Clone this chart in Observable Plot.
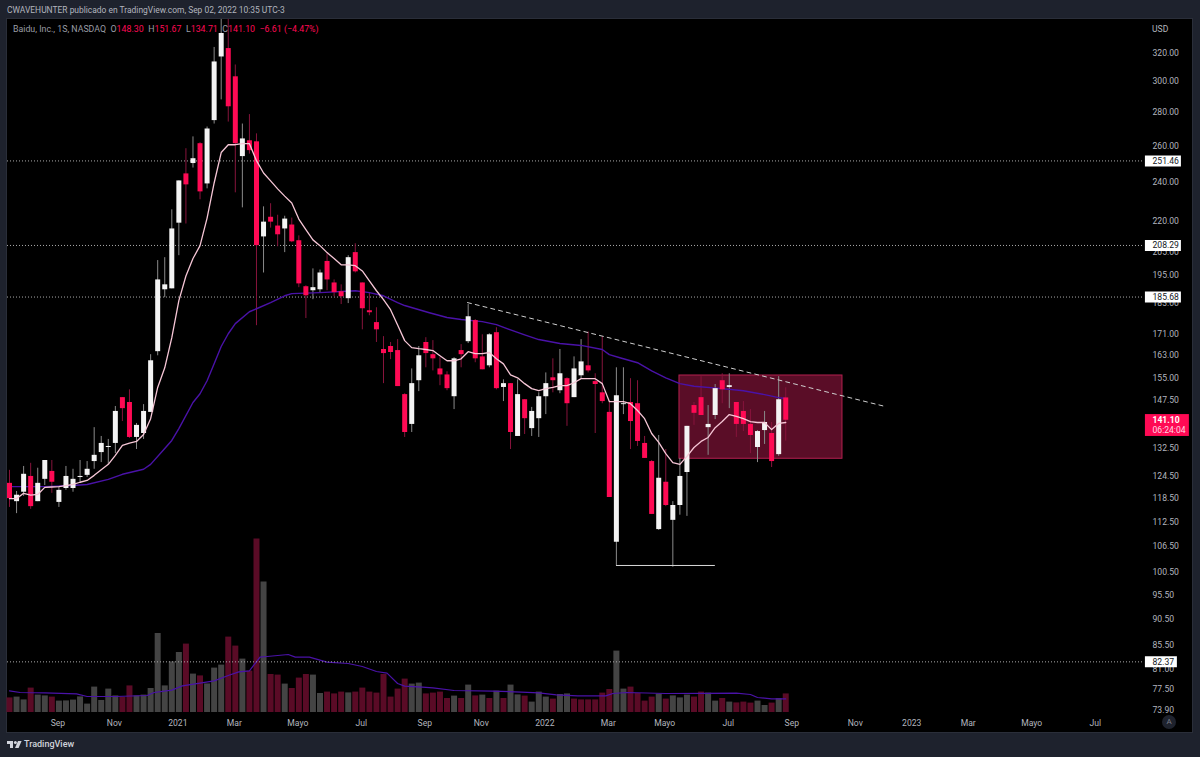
<!DOCTYPE html>
<html lang="es">
<head>
<meta charset="utf-8">
<title>Baidu, Inc. 1S NASDAQ</title>
<script src="https://cdn.jsdelivr.net/npm/d3@7"></script>
<script src="https://cdn.jsdelivr.net/npm/@observablehq/plot@0.6"></script>
<style>
html,body{margin:0;padding:0;background:#1e222d;overflow:hidden}
#page{position:relative;width:1200px;height:757px;background:#1e222d;font-family:Roboto,sans-serif;overflow:hidden}
#pane{position:absolute;left:7px;top:19px;width:1185px;height:713px;background:#000;outline:1px solid #2a2e39}
.layer{position:absolute;left:0;top:0}
#pub{position:absolute;left:7px;top:4px;font-size:8.45px;line-height:12px;color:#b2b5be;white-space:nowrap}
#legend{position:absolute;left:13px;top:23px;font-size:8.8px;line-height:12px;color:#9a9da6;white-space:nowrap}
#legend b{font-weight:400;color:#ff0a54}
#legend span{margin-left:4.5px}
#usd{position:absolute;left:1152px;top:23px;font-size:8.6px;line-height:12px;color:#b2b5be}
#auto{position:absolute;left:1162px;top:715px;width:14px;height:14px;border-radius:7px;background:#1e222d;color:#787b86;font-size:8px;line-height:14px;text-align:center}
#brand{position:absolute;left:24px;top:737px;font-size:9px;line-height:14px;font-weight:500;color:#d1d4dc}
#logo{position:absolute;left:7px;top:741px}
</style>
</head>
<body>
<div id="page">
  <div id="pane"></div>
  <div id="volLayer" class="layer"></div>
  <div id="priceLayer" class="layer"></div>
  <div id="pub">CWAVEHUNTER publicado en TradingView.com, Sep 02, 2022 10:35 UTC-3</div>
  <div id="legend">Baidu, Inc., 1S, NASDAQ<span>O<b>148.30</b></span><span>H<b>151.67</b></span><span>L<b>134.71</b></span><span>C<b>141.10</b></span><span><b>−6.61 (−4.47%)</b></span></div>
  <div id="usd">USD</div>
  <div id="auto">A</div>
  <svg id="logo" width="15" height="8" viewBox="0 0 15 8"><path fill="#d1d4dc" d="M0 0h6v7H3V3H0z"/><circle fill="#d1d4dc" cx="8.4" cy="1.5" r="1.5"/><path fill="#d1d4dc" d="M11 0h3.6l-3 7H8z"/></svg>
  <div id="brand">TradingView</div>
</div>
<script>
// Weekly candles, one entry per week starting at firstWeek
const firstWeek = Date.UTC(2020, 6, 20);
const open  = [122.6,117.7,120.2,124.5,117.7,123.7,125.9,117.5,121.2,121.2,124.2,124.8,128.7,131.3,132.8,134,148.4,146.8,135.8,137,143.6,164.4,188.7,189.1,218.9,244.3,250,261.3,238.9,275.1,317,323,303.3,253.9,263,262.4,212.3,221.8,217.5,216.1,218,210.5,190,188.3,188.7,201,191.6,187.9,185,205,191.6,180.1,175.4,165.2,166.3,164.8,149.4,139.8,154.1,167.8,163.3,158.2,156.1,148.7,164.8,168.1,176.2,162.5,159.3,171.5,151.8,153.1,136.1,147.7,138.5,141.6,148.7,155.1,150.7,154.8,148.4,155.8,159.3,153.8,150,143.6,107.5,146.1,146.8,146.4,134,128.7,110.6,122.9,112.9,116.7,125.6,145.8,148.4,138.8,142.6,154.1,151.8,146.8,143.9,139.8,132.8,137.9,137,130.7,148.3];
const high  = [126.2,120.4,127.3,128.2,126.8,129,129,121.5,127.3,126.5,129,128.7,138.8,136.1,135.2,145.5,148.4,151,140.1,146.1,163.3,201.4,202.7,225.5,240.5,258.4,265.3,261.9,271.2,323.8,354.8,350,311.4,273,278.8,267.1,227,228.6,222.8,222.3,221.4,212.8,190.4,197.7,197.2,204.5,192.9,190.8,203.6,209.1,191.6,187.5,181.3,170,167.8,168.9,149.7,158.2,166.3,169.6,168.5,162.2,157.2,162.2,167,182.6,176.6,170.7,171.1,173.4,154.4,153.1,154.4,147.7,145.2,150,156.8,161.8,165.2,155.1,162.5,168.9,171.8,156.5,170,146.8,158.6,158.6,154.8,154.1,136.1,129,136.4,132.2,117.7,129.6,139.2,146.8,155.5,145.8,152.8,156.5,156.5,146.8,147.1,144.5,137.9,143.9,140.4,155.5,151.67];
const low   = [116.2,114.6,119.1,115.7,117.7,122,119.9,116.2,120.7,120.2,122.6,124.2,126.5,128.4,127.9,131,140.7,135.5,132.2,135.2,143.6,162.9,185.4,189.1,203.6,218.5,247.5,230.6,236.3,273,288.1,274.2,234.2,226.5,255.3,174.2,195.9,216.5,207.7,205,209.6,189.6,177,184.6,187.5,188.3,185.8,182.6,183,195.9,172.6,178.1,167.8,153.1,161.5,152.1,135.8,137.3,150.4,158.6,157.5,152.4,150.7,144.5,158.6,167.4,160.4,157.9,158.6,151,147.1,132.2,136.1,136.7,136.1,135.8,142.9,150,149.7,139.2,148.4,154.8,156.8,137,146.4,118.8,102.1,142.9,132.2,133.1,129.6,114.4,110.4,116.4,101.7,114.2,113.9,139.5,142.6,130.5,141.3,146.4,144.8,135.8,137.6,131,128.4,133.7,127,130.2,134.71];
const close = [118.5,119.4,125.1,116.4,122.6,129,122.9,120.7,124.5,123.7,124.5,126.5,130.5,134,133.1,143.9,144.8,135.8,139.5,143.9,161.1,192.9,190.8,216.1,240.5,238.4,252.7,234.7,270,313.5,334,283.7,261.3,264.1,257.3,208.2,219.4,219.4,213.3,220.9,210,191.2,186.2,189.6,195.9,192.9,187.5,185.8,202.7,196.4,180.9,179.3,172.6,163.7,164.1,152.1,137.3,153.1,162.9,163.7,161.8,156.1,151.4,161.8,163.3,177.7,161.8,157.9,170.7,151.4,153.1,137.3,149.4,141.6,143.9,148.7,153.1,154.1,156.5,146.4,158.2,160.7,157.5,152.8,147.1,118.8,149,146.4,140.7,134.6,129.6,114.4,124,116.7,116.7,124.5,139.2,143.3,142.6,139.8,151.4,151,152.4,139.8,139.8,136.4,137.6,140.4,128.7,147.7,141.1];
// Volume in millions of shares
const volume = [7.3,7.7,6.3,12.2,8.7,8.3,7.7,5.7,5.8,6.2,7.8,4.2,12.7,6,11.7,8.3,7.5,13.3,8.3,8.7,12,39.5,13.3,25.3,30,34.2,19.2,18.3,14.3,22.2,23.7,37.7,33.2,26.7,20.7,86.7,65.2,19,18.7,14.2,12,17.2,19,18.7,9.5,10.2,9.3,10.2,9.8,10.2,12.2,10.2,9.7,19,7.7,11.7,16.7,14.2,14.7,9.3,9.7,10.2,7,8.2,7,13.7,8.3,8.7,7,10.7,7,13.7,8.8,8.2,5.2,10.2,7.7,6.7,9,9.3,6.7,6.3,6.3,6.3,9.7,11.5,30.7,11.7,12.7,9.5,5.7,7.7,9.2,6.7,8.3,7.3,8.7,7.7,10.2,9.7,5.7,7,5.2,4.8,5.2,4.7,5.7,3.5,4.7,7,9.3];
const volumeIsUp = [0,1,1,0,1,1,0,1,1,1,1,1,1,1,1,1,0,0,1,1,1,1,1,1,1,0,1,0,1,1,1,0,0,1,0,0,1,0,0,1,0,0,0,1,1,0,0,0,1,0,0,0,0,0,0,0,0,1,1,0,0,0,0,1,0,1,0,1,0,1,0,1,1,0,1,1,1,0,1,1,0,0,0,0,0,0,1,1,0,0,0,0,1,0,1,1,1,0,0,1,1,0,1,0,0,0,1,1,0,1,0];
// Fast moving average of price, one value per week
const fastMA = [118.5,118.5,119.9,119.4,119.6,121.5,121.6,121.7,122,122.3,122.9,123.4,124.8,126.4,127.9,130.5,133.4,134.1,134.6,136.7,141.6,151.8,158.6,169.6,184.2,194.6,202.3,208.2,221.4,239.4,256.2,260.7,260.7,261.3,261.3,251.6,244.8,240.5,236.3,232.5,229,220.9,215.8,210.9,208.2,205,202.3,199.5,199.5,199.1,196.8,192.5,188.3,184.6,180.5,174.5,168.5,165.9,165.5,165.2,164.8,162.9,161.1,161.1,161.8,164.4,163.7,163.7,164.1,161.8,160,156.1,155.1,153.1,151.4,150.7,151.4,151.8,152.4,152.4,153.4,154.8,154.8,154.8,153.1,147.1,147.1,147.1,146.4,144.2,141.6,137,134.3,131,128.4,127.9,130.2,132.8,134.6,135.8,138.8,140.7,142.9,142.3,141.6,140.7,140.4,140.4,138.2,140.1,140.4];
// Slow moving average of price
const slowWeeks = [0,5,9,11,14,16,19,20,22,23,24,26,27,28,29,30,31,32,34,35,37,39,40,44,49,51,53,55,56,59.5,62,64,67,69,71,73,75,78,81,84,85,86.5,89,91,93,95,97,101,104,107,109,110];
const slowMA = [121.7,121.7,122,122.3,123.7,125.1,126.5,127.9,132.5,134.9,138.5,146.8,149.7,154.1,160,166.3,171.1,175,179.7,180.9,183.4,186.2,187.1,187.5,188.3,187.5,186.2,183.4,182.2,179.3,177.4,176.6,175.8,174.6,172.6,170.7,168.9,167.4,166.7,165.2,163.3,162.2,160.4,157.5,155.1,153.1,152.2,151.4,150.7,149.4,148.4,148.1];
// Moving average of volume
const volMAWeeks = [0,1.5,5,9.5,11,15,19.5,20.5,23,24.5,27,29,31,32.5,34,35.5,36.5,39.5,40.5,42.5,45,48,50,52,53.5,55,56,58.5,60,63,68.5,72.5,75,77.5,80.5,84.5,85.5,87.5,93,103,105,106,108,110];
const volMA = [10.8,10,9.8,9.3,8,8,8.5,10,11.2,13.3,14.7,15.8,18.5,20.3,20.8,27.7,28,29,27.7,27.7,25.2,24.5,23,20.5,19.7,14.5,13.2,12.7,12.3,11,10.7,10.2,9.8,8.8,8.3,8.3,9.5,10,9.5,9.7,9,7.5,6.8,6.8];

const levels = [251.46, 208.29, 185.68, 82.37];
const levelBoxEnd = [166.07, 166.07, 166.07, 165.5];
const priceTicks = [320,300,280,260,240,220,205,195,183,171,163,155,147.5,132.5,124.5,118.5,112.5,106.5,100.5,95.5,90.5,85.5,81,77.5,73.9];
const monthWeeks = [7,15,24,32,41,50,59,67,76,85,93,102,111,120,128,136,145,154];
const monthLabels = ["Sep","Nov","2021","Mar","Mayo","Jul","Sep","Nov","2022","Mar","Mayo","Jul","Sep","Nov","2023","Mar","Mayo","Jul"];

const week = i => new Date(firstWeek + i * 7 * 864e5);
const xDomain = [week(-0.283), week(160.84)];
const priceDomain = [73.58, 344.6];

const candles = close.map((c, i) => ({date: week(i), o: open[i], h: high[i], l: low[i], c, up: c >= open[i]}));
const volumes = volume.map((v, i) => ({date: week(i), v, up: !!volumeIsUp[i]}));
const fast = fastMA.map((v, i) => ({date: week(i), v}));
const slow = slowMA.map((v, i) => ({date: week(slowWeeks[i]), v}));
const volLine = volMA.map((v, i) => ({date: week(volMAWeeks[i]), v}));
const monthDates = monthWeeks.map(week);
const monthLabel = new Map(monthDates.map((d, i) => [+d, monthLabels[i]]));
const levelRows = levels.map((p, i) => ({p, end: week(levelBoxEnd[i])}));

const frame = {width: 1200, height: 757, marginTop: 19, marginBottom: 45, marginLeft: 7, marginRight: 56};
const fontStyle = {background: "transparent", fontFamily: "Roboto, sans-serif", fontSize: "8.6px", overflow: "visible"};

const volChart = Plot.plot({
  ...frame, style: fontStyle,
  x: {type: "utc", domain: xDomain, axis: null},
  y: {domain: [0, 346.5], axis: null},
  marks: [
    Plot.ruleX(volumes, {x: "date", y1: 0, y2: "v", strokeWidth: 6, stroke: d => d.up ? "#444444" : "#5a0b26"}),
    Plot.line(volLine, {x: "date", y: "v", stroke: "#4a12a8", strokeWidth: 1.2, curve: "linear"})
  ]
});
document.getElementById("volLayer").append(volChart);

const priceChart = Plot.plot({
  ...frame, style: fontStyle,
  x: {type: "utc", domain: xDomain, axis: null},
  y: {type: "log", domain: priceDomain, axis: null},
  marks: [
    // highlighted consolidation box
    Plot.rect([{x1: week(94.94), x2: week(118.04), y1: 129.5, y2: 155.9}], {x1: "x1", x2: "x2", y1: "y1", y2: "y2", fill: "#5a0d27", stroke: "#b3204f", strokeWidth: 1}),
    // horizontal levels
    Plot.ruleY(levels, {y: d => d, stroke: "#aaaaaa", strokeWidth: 1, strokeDasharray: "1,2"}),
    // wicks
    Plot.ruleX(candles, {x: "date", y1: "l", y2: "h", strokeWidth: 1, stroke: d => d.up ? "#8a8a8a" : "#87143c", clip: true}),
    // moving averages
    Plot.line(slow, {x: "date", y: "v", stroke: "#4a12a8", strokeWidth: 1.4, curve: "linear"}),
    // candle bodies
    Plot.ruleX(candles, {x: "date", y1: "o", y2: "c", strokeWidth: 5, stroke: d => d.up ? "#f4f4f4" : "#ff0a54", clip: true}),
    Plot.line(fast, {x: "date", y: "v", stroke: "#f6c6d6", strokeWidth: 1.3, curve: "linear"}),
    // annotations
    Plot.line([{d: week(64.9), p: 183.4}, {d: week(124.1), p: 145.5}], {x: "d", y: "p", stroke: "#cfcfcf", strokeWidth: 1, strokeDasharray: "4,4"}),
    Plot.line([{d: week(86), p: 102.1}, {d: week(99.9), p: 102.1}], {x: "d", y: "p", stroke: "#d9d9d9", strokeWidth: 1}),
    // axes
    Plot.axisX(monthDates, {anchor: "bottom", tickSize: 0, tickPadding: 7, label: null, dx: -1, fill: "#b2b5be", tickFormat: d => monthLabel.get(+d)}),
    Plot.axisY(priceTicks, {anchor: "right", tickSize: 0, tickPadding: 8, label: null, fill: "#b2b5be", tickFormat: d3.format(".2f")}),
    // price scale labels
    Plot.ruleY(levelRows, {y: "p", x1: week(160.97), x2: "end", stroke: "#ffffff", strokeWidth: 11}),
    Plot.text(levelRows, {y: "p", x: week(161.97), text: d => d.p.toFixed(2), textAnchor: "start", fill: "#131722"}),
    Plot.rect([{x1: week(160.97), x2: week(167.2), y1: 136.1, y2: 142.9}], {x1: "x1", x2: "x2", y1: "y1", y2: "y2", fill: "#ff0a54"}),
    Plot.text([141.10], {y: d => d, x: week(161.97), text: d => d.toFixed(2), textAnchor: "start", fill: "#ffffff", fontWeight: 700}),
    Plot.text([141.10], {y: d => d, x: week(161.97), dy: 10, text: () => "06:24:04", textAnchor: "start", fill: "#ffd6e3"})
  ]
});
document.getElementById("priceLayer").append(priceChart);
</script>
</body>
</html>
